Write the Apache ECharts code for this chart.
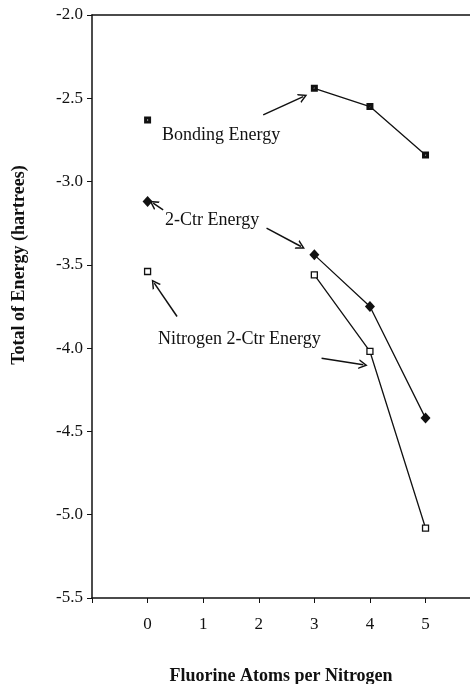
<!DOCTYPE html>
<html>
<head>
<meta charset="utf-8">
<script src="https://cdn.jsdelivr.net/npm/echarts@6/dist/echarts.min.js"></script>
<style>
  html, body { margin: 0; padding: 0; background: #fff; }
  #main { width: 470px; height: 684px; }
</style>
</head>
<body>
<div id="main"></div>
<script>
// fluorine atoms per nitrogen
const fluorine = [0, 3, 4, 5];
// total energies (hartrees)
const bondingEnergy = [-2.63, -2.44, -2.55, -2.84];
const twoCtrEnergy = [-3.12, -3.44, -3.75, -4.42];
const nitrogenTwoCtrEnergy = [-3.54, -3.56, -4.02, -5.08];

// annotation arrows, data coords: [fromX, fromY, toX, toY]
const arrows = [
  [2.08, -2.60, 2.80, -2.49],
  [0.28, -3.17, 0.10, -3.13],
  [2.14, -3.28, 2.76, -3.39],
  [0.53, -3.81, 0.12, -3.61],
  [3.13, -4.06, 3.88, -4.10]
];

const serif = '"Liberation Serif", "DejaVu Serif", serif';
const ink = '#111';

// small square with a light dot in the middle
const bondingSymbol = 'path://M0,0H10V10H0Z M4.2,4.2V5.8H5.8V4.2Z';
const chevron = 'path://M0,12 L6,0 L12,12 L10,12 L6,4 L2,12 Z';

function pairs(vals, from) {
  const out = [];
  for (let i = from; i < fluorine.length; i++) out.push([fluorine[i], vals[i]]);
  return out;
}

// one isolated point at x=0, the rest joined
function energySeries(name, vals, symbol, size, color, border) {
  const itemStyle = {color: color, borderColor: ink, borderWidth: border, opacity: 1};
  return [
    {
      name: name,
      type: 'line',
      data: pairs(vals, 1),
      symbol: symbol,
      symbolSize: size,
      showAllSymbol: true,
      itemStyle: itemStyle,
      lineStyle: {color: ink, width: 1.3},
      z: 3
    },
    {
      name: name,
      type: 'scatter',
      data: pairs(vals, 0).slice(0, 1),
      symbol: symbol,
      symbolSize: size,
      itemStyle: itemStyle,
      z: 4
    }
  ];
}

const chart = echarts.init(document.getElementById('main'));

const option = {
  backgroundColor: '#fff',
  animation: false,
  grid: {
    left: 92,
    right: 0,
    top: 15,
    bottom: 86,
    containLabel: false,
    outerBoundsMode: 'none'
  },
  xAxis: [
    {
      type: 'value',
      min: -1,
      max: 5.8,
      interval: 1,
      name: 'Fluorine Atoms per Nitrogen',
      nameLocation: 'middle',
      nameGap: 69,
      nameTextStyle: {fontFamily: serif, fontWeight: 'bold', fontSize: 18, color: ink},
      axisLine: {show: true, onZero: false, lineStyle: {color: ink, width: 1.5}},
      axisTick: {show: true, inside: false, length: 5, lineStyle: {color: ink}},
      axisLabel: {
        margin: 18,
        fontFamily: serif,
        fontSize: 17,
        color: ink,
        formatter: function (v) { return v >= 0 && v <= 5 ? String(v) : ''; }
      },
      splitLine: {show: false}
    },
    {
      // plain top frame line
      type: 'value',
      position: 'top',
      min: -1,
      max: 5.8,
      axisLine: {show: true, onZero: false, lineStyle: {color: ink, width: 1.5}},
      axisTick: {show: false},
      axisLabel: {show: false},
      splitLine: {show: false}
    }
  ],
  yAxis: {
    type: 'value',
    min: -5.5,
    max: -2.0,
    interval: 0.5,
    axisLine: {show: true, onZero: false, lineStyle: {color: ink, width: 1.5}},
    axisTick: {show: true, inside: false, length: 5, lineStyle: {color: ink}},
    axisLabel: {
      margin: 9,
      fontFamily: serif,
      fontSize: 17,
      color: ink,
      formatter: function (v) { return v.toFixed(1); }
    },
    splitLine: {show: false}
  },
  graphic: [
    {
      type: 'text',
      x: 19,
      y: 265,
      rotation: Math.PI / 2,
      style: {
        text: 'Total of Energy (hartrees)',
        font: 'bold 18px ' + serif,
        fill: ink,
        align: 'center',
        verticalAlign: 'middle'
      }
    },
    {
      type: 'text',
      x: 162,
      y: 135,
      style: {text: 'Bonding Energy', font: '18px ' + serif, fill: ink, verticalAlign: 'middle'}
    },
    {
      type: 'text',
      x: 165,
      y: 220,
      style: {text: '2-Ctr Energy', font: '18px ' + serif, fill: ink, verticalAlign: 'middle'}
    },
    {
      type: 'text',
      x: 158,
      y: 339,
      style: {text: 'Nitrogen 2-Ctr Energy', font: '18px ' + serif, fill: ink, verticalAlign: 'middle'}
    }
  ],
  series: [
    ...energySeries('Bonding Energy', bondingEnergy, bondingSymbol, 7, ink, 0),
    ...energySeries('2-Ctr Energy', twoCtrEnergy, 'diamond', [10, 11], ink, 0),
    ...energySeries('Nitrogen 2-Ctr Energy', nitrogenTwoCtrEnergy, 'rect', 6, '#fff', 1.3),
    {
      type: 'line',
      data: [],
      silent: true,
      markLine: {
        silent: true,
        animation: false,
        label: {show: false},
        lineStyle: {color: ink, width: 1.5, type: 'solid'},
        symbolSize: [10, 9],
        data: arrows.map(function (a) {
          return [
            {coord: [a[0], a[1]], symbol: 'none'},
            {coord: [a[2], a[3]], symbol: chevron}
          ];
        })
      }
    }
  ]
};

chart.setOption(option);
</script>
</body>
</html>
